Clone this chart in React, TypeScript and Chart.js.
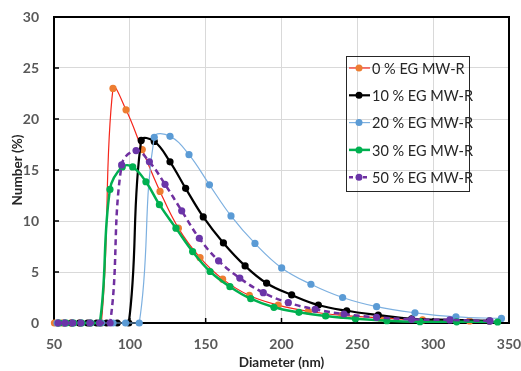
import React, { useEffect, useRef } from 'react';
import { Chart, registerables } from 'chart.js';

Chart.register(...registerables);

// ---- data ----
const seriesLabels = ['0 % EG MW-R', '10 % EG MW-R', '20 % EG MW-R', '30 % EG MW-R', '50 % EG MW-R'];

const diam0 = [50.3, 55.5, 61.1, 67.2, 73.9, 81.2, 88.9, 97.5, 108.2, 119.9, 132, 146.3, 161.2, 178.8, 197.8, 217.7, 240, 265, 293, 324];
const num0 = [0, 0, 0, 0, 0, 0, 23.0, 20.9, 17.0, 12.9, 9.3, 6.4, 4.3, 2.7, 1.76, 1.15, 0.75, 0.5, 0.3, 0.2];

const diam10 = [52.5, 56.9, 61.6, 66.7, 72.2, 78.2, 84.7, 91.7, 99.3, 107.5, 116.1, 126.5, 136.8, 148.4, 161.7, 176, 190.2, 206.7, 224.3, 243, 263.8, 285.8, 313, 337];
const num10 = [0, 0, 0, 0, 0, 0, 0, 0, 0, 17.9, 17.8, 15.8, 13.2, 10.4, 7.85, 5.6, 3.9, 2.75, 1.76, 1.2, 0.78, 0.4, 0.3, 0.2];

const diam20 = [52, 56.9, 62.2, 68, 74.4, 81.3, 88.9, 97.2, 106.2, 116.1, 126.5, 139, 152.5, 166.7, 182.5, 200.1, 219.4, 240.3, 262.7, 288, 315, 345];
const num20 = [0, 0, 0, 0, 0, 0, 0, 0, 0, 18.2, 18.3, 16.5, 13.55, 10.5, 7.8, 5.4, 3.8, 2.5, 1.6, 1.0, 0.6, 0.45];

const diam30 = [53.7, 58.2, 63, 68.3, 74, 80.2, 86.9, 95, 101.9, 110.6, 119.5, 130.4, 141.4, 152.9, 166, 179.7, 195, 211.5, 229.1, 248.7, 269.5, 291.3, 315.5, 342.5];
const num30 = [0, 0, 0, 0, 0, 0, 13.1, 15.3, 15.3, 13.85, 11.6, 9.3, 7.0, 5.05, 3.56, 2.38, 1.54, 1.05, 0.69, 0.42, 0.23, 0.13, 0.12, 0.1];

const diam50 = [52.7, 57.3, 62.3, 67.7, 73.6, 80, 87, 94.6, 104.1, 112.9, 123.2, 134.2, 145.8, 158.5, 172.5, 188, 204.5, 222.2, 241.2, 262.7, 285.8, 311, 337.5];
const num50 = [0, 0, 0, 0, 0, 0, 0, 15.5, 16.9, 15.8, 13.6, 11.0, 8.3, 6.1, 4.4, 2.97, 1.99, 1.34, 0.88, 0.56, 0.36, 0.3, 0.2];

const xTicks = [50, 100, 150, 200, 250, 300, 350];
const yTicks = [0, 5, 10, 15, 20, 25, 30];

// ---- styles ----
const lineColors = ['#F5261B', '#000000', '#7DB0E0', '#00B050', '#7030A0'];
const markerColors = ['#ED7D31', '#000000', '#5B9BD5', '#00B050', '#6A35A8'];
const lineWidths = [1.2, 2.2, 1.2, 2.5, 2.5];
const dashes: number[][] = [[], [], [], [], [6, 4]];

const FONT = 'Lato, "Liberation Sans", sans-serif';

const frameAndTicks = {
  id: 'frameAndTicks',
  beforeDatasetsDraw(chart: any) {
    const { ctx, chartArea: a, scales } = chart;
    ctx.save();
    ctx.strokeStyle = '#000';
    ctx.lineWidth = 2;
    ctx.strokeRect(a.left, a.top, a.right - a.left, a.bottom - a.top);
    ctx.lineWidth = 1.5;
    ctx.beginPath();
    xTicks.forEach((v) => {
      const px = scales.x.getPixelForValue(v);
      ctx.moveTo(px, a.bottom);
      ctx.lineTo(px, a.bottom - 5);
    });
    yTicks.forEach((v) => {
      const py = scales.y.getPixelForValue(v);
      ctx.moveTo(a.left, py);
      ctx.lineTo(a.left + 5, py);
    });
    ctx.stroke();
    ctx.restore();
  },
};

const boxLegend = {
  id: 'boxLegend',
  afterDraw(chart: any) {
    const { ctx, chartArea: a } = chart;
    const left = a.right - 163;
    const top = a.top + 39;
    const w = 123;
    const h = 135;
    ctx.save();
    ctx.strokeStyle = '#262626';
    ctx.lineWidth = 1;
    ctx.strokeRect(left + 0.5, top + 0.5, w, h);
    ctx.font = '14.5px ' + FONT;
    ctx.textBaseline = 'middle';
    ctx.textAlign = 'left';
    seriesLabels.forEach((lab, i) => {
      const y = top + 12 + i * 27.3;
      ctx.strokeStyle = lineColors[i];
      ctx.lineWidth = lineWidths[i];
      ctx.setLineDash(dashes[i].length ? [4, 3] : []);
      ctx.beginPath();
      ctx.moveTo(left + 3, y);
      ctx.lineTo(left + 24, y);
      ctx.stroke();
      ctx.setLineDash([]);
      ctx.fillStyle = markerColors[i];
      ctx.beginPath();
      ctx.arc(left + 13, y, 3.5, 0, Math.PI * 2);
      ctx.fill();
      ctx.fillStyle = '#262626';
      ctx.fillText(lab, left + 26, y + 1);
    });
    ctx.restore();
  },
};

export default function App() {
  const ref = useRef<HTMLCanvasElement | null>(null);

  useEffect(() => {
    if (!ref.current) return;
    const xs = [diam0, diam10, diam20, diam30, diam50];
    const ys = [num0, num10, num20, num30, num50];
    const datasets = seriesLabels.map((label, i) => ({
      label,
      data: xs[i].map((x, j) => ({ x, y: ys[i][j] })),
      borderColor: lineColors[i],
      backgroundColor: markerColors[i],
      pointBackgroundColor: markerColors[i],
      pointBorderColor: markerColors[i],
      pointBorderWidth: 0,
      pointRadius: 3.6,
      borderWidth: lineWidths[i],
      borderDash: dashes[i],
      tension: 0.4,
      fill: false,
      clip: 6,
      order: 4 - i,
    }));

    const chart = new Chart(ref.current, {
      type: 'line',
      data: { datasets },
      options: {
        responsive: false,
        animation: false,
        layout: { padding: { top: 17, right: 12, left: 0, bottom: 0 } },
        plugins: { legend: { display: false }, tooltip: { enabled: false } },
        scales: {
          x: {
            type: 'linear',
            min: 50,
            max: 350,
            afterBuildTicks: (s: any) => { s.ticks = xTicks.map((v) => ({ value: v })); },
            afterFit: (s: any) => { s.height = 48; s.paddingLeft = 0; s.paddingRight = 0; },
            grid: { color: '#D9D9D9', lineWidth: 1, drawTicks: false },
            border: { display: false },
            ticks: { color: '#595959', font: { family: FONT, size: 14, weight: 'bold' }, padding: 13, maxRotation: 0 },
            title: {
              display: true,
              text: 'Diameter (nm)',
              color: '#262626',
              font: { family: FONT, size: 13.5, weight: 'bold' },
              padding: { top: 0, bottom: 0 },
            },
          },
          y: {
            type: 'linear',
            min: 0,
            max: 30,
            afterBuildTicks: (s: any) => { s.ticks = yTicks.map((v) => ({ value: v })); },
            afterFit: (s: any) => { s.width = 54; s.paddingTop = 0; s.paddingBottom = 0; },
            grid: { color: '#D9D9D9', lineWidth: 1, drawTicks: false },
            border: { display: false },
            ticks: { color: '#595959', font: { family: FONT, size: 14, weight: 'bold' }, padding: 15 },
            title: {
              display: true,
              text: 'Number (%)',
              color: '#262626',
              font: { family: FONT, size: 13.5, weight: 'bold' },
              padding: { top: 10, bottom: 0 },
            },
          },
        },
      },
      plugins: [frameAndTicks, boxLegend],
    } as any);
    return () => chart.destroy();
  }, []);

  return (
    <div style={{ position: 'absolute', left: 0, top: 0, width: 521, height: 371, background: '#fff' }}>
      <canvas ref={ref} width={521} height={371} style={{ display: 'block' }} />
    </div>
  );
}
